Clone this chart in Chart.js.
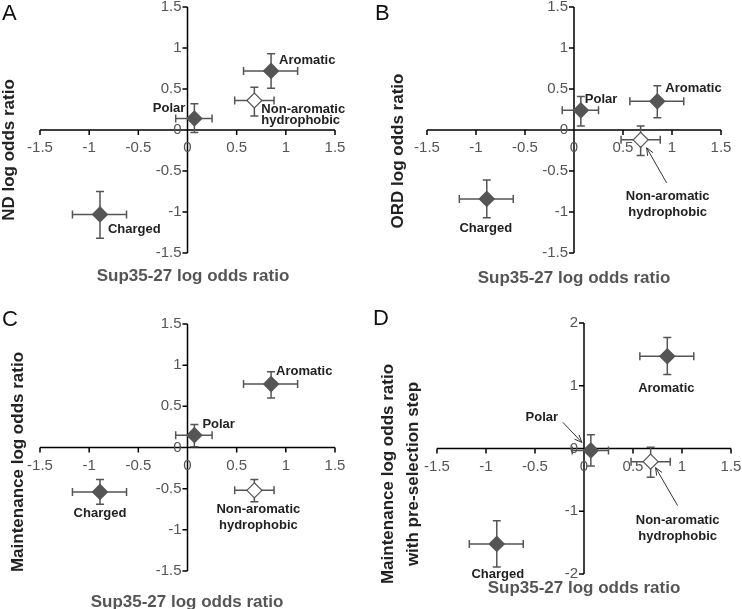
<!DOCTYPE html>
<html>
<head>
<meta charset="utf-8">
<script src="https://cdn.jsdelivr.net/npm/chart.js@4.4.1/dist/chart.umd.min.js"></script>
<style>
    body { margin: 0; background: #fff; }
    #wrap { position: relative; width: 742px; height: 609px; }
    canvas { position: absolute; }
</style>
</head>
<body>
<div id="wrap">
    <canvas id="panelA" width="371" height="300" style="left:0;top:0"></canvas>
    <canvas id="panelB" width="371" height="300" style="left:371px;top:0"></canvas>
    <canvas id="panelC" width="371" height="309" style="left:0;top:300px"></canvas>
    <canvas id="panelD" width="371" height="309" style="left:371px;top:300px"></canvas>
</div>
<script>
// Residue classes (same order in every panel)
const categories = ['Aromatic', 'Non-aromatic hydrophobic', 'Polar', 'Charged'];

// Sup35-27 log odds ratio (x axis of all four panels) with error range
const supValues = [0.85, 0.68, 0.07, -0.89];
const supLow = [0.57, 0.48, -0.12, -1.17];
const supHigh = [1.12, 0.88, 0.25, -0.62];

// A: ND log odds ratio
const ndValues = [0.72, 0.36, 0.14, -1.03];
const ndLow = [0.51, 0.17, -0.03, -1.32];
const ndHigh = [0.93, 0.52, 0.32, -0.75];

// B: ORD log odds ratio
const ordValues = [0.35, -0.12, 0.24, -0.84];
const ordLow = [0.15, -0.31, 0.05, -1.07];
const ordHigh = [0.54, 0.05, 0.41, -0.61];

// C: Maintenance log odds ratio
const maintValues = [0.77, -0.52, 0.15, -0.54];
const maintLow = [0.60, -0.66, 0.01, -0.69];
const maintHigh = [0.92, -0.39, 0.28, -0.39];

// D: Maintenance log odds ratio with pre-selection step
const preValues = [1.47, -0.21, -0.03, -1.52];
const preLow = [1.18, -0.46, -0.28, -1.89];
const preHigh = [1.77, 0.02, 0.22, -1.15];

// Tick labels
const xTicks = [-1.5, -1, -0.5, 0, 0.5, 1, 1.5];
const yTicksABC = [-1.5, -1, -0.5, 0, 0.5, 1, 1.5];
const yTicksD = [-2, -1, 0, 1, 2];

const FONT = '"Liberation Sans", Arial, sans-serif';
const GREY = '#555555';

// Draws the crossing axes, error bars, point labels, arrows and titles
const quadPlugin = {
    id: 'quad',
    beforeDatasetsDraw(chart, args, opts) {
        const ctx = chart.ctx;
        const xs = chart.scales.x, ys = chart.scales.y;
        const x0 = xs.getPixelForValue(0), y0 = ys.getPixelForValue(0);
        ctx.save();
        // axes through zero
        ctx.strokeStyle = '#000';
        ctx.lineWidth = 1.5;
        ctx.beginPath();
        ctx.moveTo(xs.left, y0); ctx.lineTo(xs.right, y0);
        ctx.moveTo(x0, ys.top); ctx.lineTo(x0, ys.bottom);
        xTicks.forEach(v => {
            const px = xs.getPixelForValue(v);
            ctx.moveTo(px, y0); ctx.lineTo(px, y0 + 5);
        });
        opts.yTicks.forEach(v => {
            const py = ys.getPixelForValue(v);
            ctx.moveTo(x0 - 5, py); ctx.lineTo(x0, py);
        });
        ctx.stroke();

        // tick labels
        ctx.fillStyle = '#555';
        ctx.font = '15px ' + FONT;
        ctx.textBaseline = 'middle';
        ctx.textAlign = 'center';
        xTicks.forEach(v => ctx.fillText(String(v), xs.getPixelForValue(v), y0 + 18));
        ctx.textAlign = 'right';
        opts.yTicks.forEach(v => ctx.fillText(String(v), x0 - 6, ys.getPixelForValue(v)));

        // error bars
        ctx.strokeStyle = GREY;
        ctx.lineWidth = 1.5;
        ctx.beginPath();
        supValues.forEach((xv, i) => {
            const px = xs.getPixelForValue(xv), py = ys.getPixelForValue(opts.yValues[i]);
            const xl = xs.getPixelForValue(supLow[i]), xh = xs.getPixelForValue(supHigh[i]);
            const yl = ys.getPixelForValue(opts.yLow[i]), yh = ys.getPixelForValue(opts.yHigh[i]);
            ctx.moveTo(xl, py); ctx.lineTo(xh, py);
            ctx.moveTo(xl, py - 4); ctx.lineTo(xl, py + 4);
            ctx.moveTo(xh, py - 4); ctx.lineTo(xh, py + 4);
            ctx.moveTo(px, yl); ctx.lineTo(px, yh);
            ctx.moveTo(px - 4, yl); ctx.lineTo(px + 4, yl);
            ctx.moveTo(px - 4, yh); ctx.lineTo(px + 4, yh);
        });
        ctx.stroke();
        ctx.restore();
    },
    afterDatasetsDraw(chart, args, opts) {
        const ctx = chart.ctx;
        const meta = chart.getDatasetMeta(0);
        ctx.save();

        // point labels, placed relative to their point
        ctx.fillStyle = '#222';
        ctx.font = 'bold 13px ' + FONT;
        ctx.textBaseline = 'middle';
        opts.labels.forEach(l => {
            const pt = meta.data[l.i];
            const lines = l.text.split('\n');
            ctx.textAlign = l.align;
            lines.forEach((s, k) => ctx.fillText(s, pt.x + l.dx, pt.y + l.dy + k * l.lh));
        });

        // arrows pointing at a point
        ctx.strokeStyle = '#333';
        ctx.lineWidth = 1;
        opts.arrows.forEach(a => {
            const pt = meta.data[a.i];
            const fx = pt.x + a.fx, fy = pt.y + a.fy, tx = pt.x + a.tx, ty = pt.y + a.ty;
            const ang = Math.atan2(ty - fy, tx - fx);
            ctx.beginPath();
            ctx.moveTo(fx, fy); ctx.lineTo(tx, ty);
            ctx.moveTo(tx - 8 * Math.cos(ang - 0.4), ty - 8 * Math.sin(ang - 0.4));
            ctx.lineTo(tx, ty);
            ctx.lineTo(tx - 8 * Math.cos(ang + 0.4), ty - 8 * Math.sin(ang + 0.4));
            ctx.stroke();
        });

        // panel letter
        ctx.fillStyle = '#111';
        ctx.font = '22px ' + FONT;
        ctx.textAlign = 'left';
        ctx.textBaseline = 'alphabetic';
        ctx.fillText(opts.letter, opts.letterPos[0], opts.letterPos[1]);

        // axis titles
        ctx.font = 'bold 17px ' + FONT;
        ctx.textAlign = 'center';
        ctx.textBaseline = 'middle';
        ctx.fillStyle = GREY;
        ctx.fillText('Sup35-27 log odds ratio', opts.xTitlePos[0], opts.xTitlePos[1]);
        ctx.fillStyle = '#222';
        opts.yTitle.forEach((s, k) => {
            ctx.save();
            ctx.translate(opts.yTitlePos[k][0], opts.yTitlePos[k][1]);
            ctx.rotate(-Math.PI / 2);
            ctx.fillText(s, 0, 0);
            ctx.restore();
        });
        ctx.restore();
    }
};

function makePanel(id, yValues, yLow, yHigh, yMin, yMax, yTicks, padding, extra) {
    const data = supValues.map((x, i) => ({ x: x, y: yValues[i] }));
    return new Chart(document.getElementById(id), {
        type: 'scatter',
        data: {
            datasets: [{
                label: 'log odds ratio',
                data: data,
                pointStyle: 'rectRot',
                pointRadius: 7.5,
                pointHoverRadius: 7.5,
                pointBackgroundColor: ['#555555', '#ffffff', '#555555', '#555555'],
                pointBorderColor: GREY,
                pointBorderWidth: 1.2,
                clip: false
            }]
        },
        options: {
            responsive: false,
            animation: false,
            devicePixelRatio: 1,
            layout: { autoPadding: false, padding: padding },
            scales: {
                x: { type: 'linear', min: -1.5, max: 1.5, display: false },
                y: { type: 'linear', min: yMin, max: yMax, display: false }
            },
            plugins: {
                legend: { display: false },
                tooltip: { enabled: false },
                quad: Object.assign({ yValues: yValues, yLow: yLow, yHigh: yHigh, yTicks: yTicks }, extra)
            }
        },
        plugins: [quadPlugin]
    });
}

// A
makePanel('panelA', ndValues, ndLow, ndHigh, -1.5, 1.5, yTicksABC,
    { left: 40, right: 36, top: 7, bottom: 47 }, {
        letter: 'A', letterPos: [2, 20],
        xTitlePos: [193, 276],
        yTitle: ['ND log odds ratio'], yTitlePos: [[9, 150]],
        labels: [
            { i: 0, text: 'Aromatic', dx: 8, dy: -11, align: 'left', lh: 0 },
            { i: 1, text: 'Non-aromatic\nhydrophobic', dx: 7, dy: 9, align: 'left', lh: 11 },
            { i: 2, text: 'Polar', dx: -9, dy: -10, align: 'right', lh: 0 },
            { i: 3, text: 'Charged', dx: 8, dy: 15, align: 'left', lh: 0 }
        ],
        arrows: []
    });

// B
makePanel('panelB', ordValues, ordLow, ordHigh, -1.5, 1.5, yTicksABC,
    { left: 56, right: 21, top: 7, bottom: 47 }, {
        letter: 'B', letterPos: [4, 20],
        xTitlePos: [203, 278],
        yTitle: ['ORD log odds ratio'], yTitlePos: [[27, 151]],
        labels: [
            { i: 0, text: 'Aromatic', dx: 8, dy: -13, align: 'left', lh: 0 },
            { i: 1, text: 'Non-aromatic\nhydrophobic', dx: 27, dy: 57, align: 'center', lh: 16 },
            { i: 2, text: 'Polar', dx: 4, dy: -11, align: 'left', lh: 0 },
            { i: 3, text: 'Charged', dx: -1, dy: 30, align: 'center', lh: 0 }
        ],
        arrows: [{ i: 1, fx: 26, fy: 43, tx: 6, ty: 8 }]
    });

// C
makePanel('panelC', maintValues, maintLow, maintHigh, -1.5, 1.5, yTicksABC,
    { left: 40, right: 36, top: 24, bottom: 38 }, {
        letter: 'C', letterPos: [2, 26],
        xTitlePos: [187, 302],
        yTitle: ['Maintenance log odds ratio'], yTitlePos: [[18, 162]],
        labels: [
            { i: 0, text: 'Aromatic', dx: 5, dy: -13, align: 'left', lh: 0 },
            { i: 1, text: 'Non-aromatic\nhydrophobic', dx: 4, dy: 19, align: 'center', lh: 16 },
            { i: 2, text: 'Polar', dx: 8, dy: -11, align: 'left', lh: 0 },
            { i: 3, text: 'Charged', dx: 0, dy: 21, align: 'center', lh: 0 }
        ],
        arrows: []
    });

// D
makePanel('panelD', preValues, preLow, preHigh, -2, 2, yTicksD,
    { left: 66, right: 11, top: 23, bottom: 35 }, {
        letter: 'D', letterPos: [2, 25],
        xTitlePos: [213, 288],
        yTitle: ['Maintenance log odds ratio', 'with pre-selection step'], yTitlePos: [[17, 174], [42, 174]],
        labels: [
            { i: 0, text: 'Aromatic', dx: -1, dy: 32, align: 'center', lh: 0 },
            { i: 1, text: 'Non-aromatic\nhydrophobic', dx: 27, dy: 59, align: 'center', lh: 16 },
            { i: 2, text: 'Polar', dx: -49, dy: -33, align: 'center', lh: 0 },
            { i: 3, text: 'Charged', dx: 1, dy: 31, align: 'center', lh: 0 }
        ],
        arrows: [
            { i: 2, fx: -28, fy: -28, tx: -9, ty: -8 },
            { i: 1, fx: 27, fy: 44, tx: 5, ty: 6 }
        ]
    });
</script>
</body>
</html>
